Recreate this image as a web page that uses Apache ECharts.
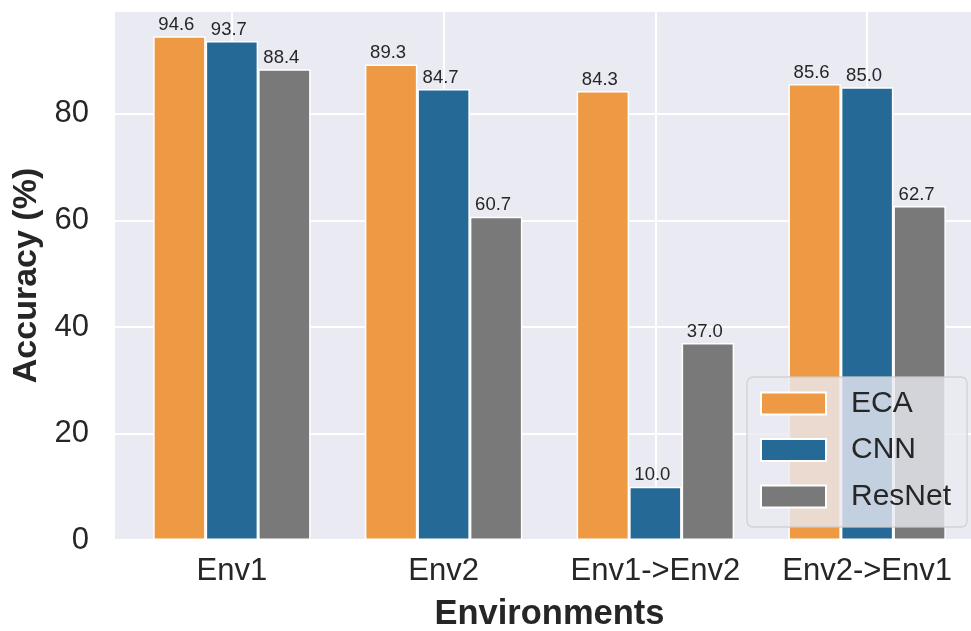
<!DOCTYPE html>
<html>
<head>
<meta charset="utf-8">
<script src="https://cdn.jsdelivr.net/npm/echarts@6/dist/echarts.min.js"></script>
<style>html,body{margin:0;padding:0;background:#fff;}#c{width:971px;height:631px;}</style>
</head>
<body>
<div id="c"></div>
<script>
const categories = ['Env1', 'Env2', 'Env1->Env2', 'Env2->Env1'];
const seriesNames = ['ECA', 'CNN', 'ResNet'];
const ecaValues = [94.6, 89.3, 84.3, 85.6];
const cnnValues = [93.7, 84.7, 10.0, 85.0];
const resnetValues = [88.4, 60.7, 37.0, 62.7];
const yTicks = [0, 20, 40, 60, 80];
const yMax = 99.33;

const colors = ['#ee9a45', '#256a96', '#797979'];
const txt = '#262626';
const font = "'Liberation Sans', Arial, sans-serif";
const valueSets = [ecaValues, cnnValues, resnetValues];

const chart = echarts.init(document.getElementById('c'), null, {renderer: 'canvas'});
const option = {
  animation: false,
  textStyle: {fontFamily: font},
  grid: [
    {left: 115, top: 11, bottom: 91, width: 868, show: true, backgroundColor: '#eaeaf2', borderWidth: 0,
     containLabel: false, outerBoundsMode: 'none'},
    {left: 126, top: 11, bottom: 91, width: 847, show: false, containLabel: false, outerBoundsMode: 'none'}
  ],
  xAxis: [
    {gridIndex: 0, type: 'value', show: false, min: 0, max: 1},
    {gridIndex: 1, type: 'category', data: categories, boundaryGap: true,
     axisLine: {show: false},
     axisTick: {show: true, interval: 0, alignWithLabel: true, inside: true, length: 529, lineStyle: {color: '#ffffff', width: 2}},
     axisLabel: {interval: 0, fontSize: 31, color: txt, margin: 16, fontFamily: font},
     splitLine: {show: false},
     name: 'Environments', nameLocation: 'middle', nameGap: 57,
     nameTextStyle: {fontSize: 34.5, fontWeight: 'bold', color: txt, fontFamily: font}}
  ],
  yAxis: [
    {gridIndex: 0, type: 'value', min: 0, max: yMax, interval: 20,
     axisLine: {show: false}, axisTick: {show: false},
     axisLabel: {fontSize: 31, color: txt, margin: 26, fontFamily: font,
       formatter: v => yTicks.includes(v) ? String(v) : ''},
     splitLine: {show: true, lineStyle: {color: '#ffffff', width: 2}},
     name: 'Accuracy (%)', nameLocation: 'middle', nameGap: 66, nameRotate: 90,
     nameTextStyle: {fontSize: 34, fontWeight: 'bold', color: txt, fontFamily: font}},
    {gridIndex: 1, type: 'value', min: 0, max: yMax, show: false, splitLine: {show: false}}
  ],
  legend: {
    orient: 'vertical', left: 747, top: 377,
    data: seriesNames,
    icon: 'rect', itemWidth: 65, itemHeight: 22, itemGap: 16.5,
    padding: [11.5, 16, 15.5, 13],
    backgroundColor: 'rgba(234,234,242,0.8)',
    borderColor: 'rgba(204,204,204,0.8)', borderWidth: 1.3, borderRadius: 6,
    textStyle: {fontSize: 30, color: txt, padding: [0, 0, 0, 20], fontFamily: font}
  },
  series: seriesNames.map((name, i) => ({
    name: name, type: 'bar', xAxisIndex: 1, yAxisIndex: 1,
    data: valueSets[i],
    barWidth: 52.5, barGap: '0%',
    itemStyle: {color: colors[i], borderColor: '#ffffff', borderWidth: 1.5},
    label: {show: true, position: 'top', distance: 2, offset: [-3, 0], fontSize: 18.5, color: txt, fontFamily: font,
      formatter: p => p.value.toFixed(1)}
  }))
};
chart.setOption(option);
</script>
</body>
</html>
